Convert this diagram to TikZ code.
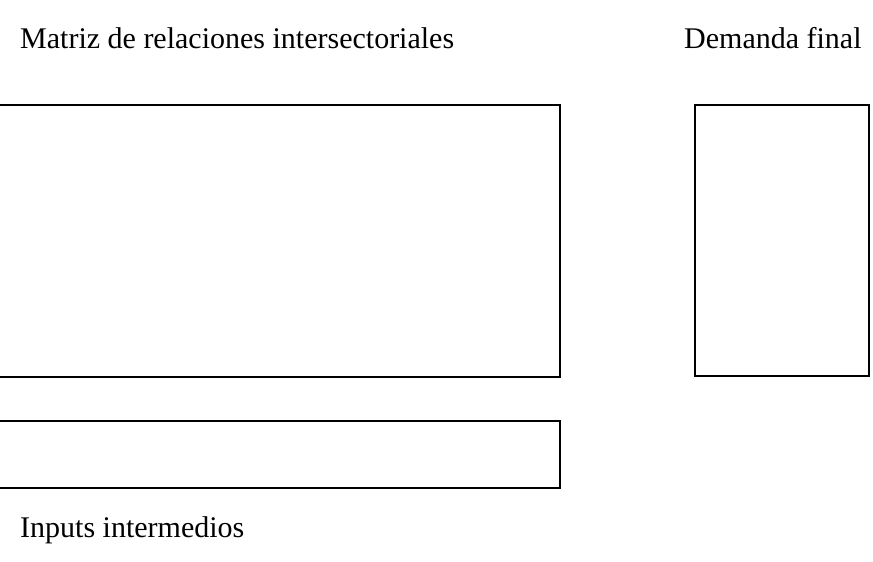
\documentclass[tikz,border=0pt]{standalone}
\usepackage{fontspec}
\setmainfont{Liberation Serif}
\tikzset{block/.style={draw, line width=2pt}, label text/.style={font=\fontsize{30}{36}\selectfont, inner sep=0pt, anchor=base west}}

\begin{document}
\begin{tikzpicture}[x=1pt, y=-1pt]
\useasboundingbox (0,0) rectangle (873,562);
\clip (0,0) rectangle (873,562);
\draw [block] (-10,105) rectangle (560,377);
\draw [block] (-10,421) rectangle (560,488);
\draw [block] (695,105) rectangle (869,376);
\node [label text] (matriz) at (20,48) {Matriz de relaciones intersectoriales};
\node [label text] (demanda) at (684,48) {Demanda final};
\node [label text] (inputs) at (20,537) {Inputs intermedios};
\end{tikzpicture}
\end{document}
